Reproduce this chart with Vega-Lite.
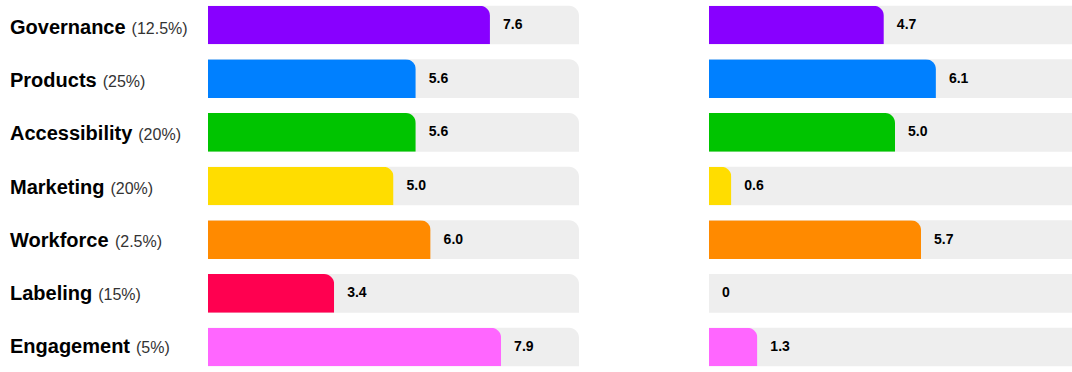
{
  "$schema": "https://vega.github.io/schema/vega-lite/v6.json",
  "padding": {"left": 10, "right": 0, "top": 0, "bottom": 0},
  "autosize": {"type": "pad"},
  "bounds": "flush",
  "config": {"view": {"stroke": null}, "font": "Liberation Sans"},
  "data": {"values": [
    {"name": "Governance", "weight": "(12.5%)", "left": 7.6, "right": 4.7},
    {"name": "Products", "weight": "(25%)", "left": 5.6, "right": 6.1},
    {"name": "Accessibility", "weight": "(20%)", "left": 5.6, "right": 5.0},
    {"name": "Marketing", "weight": "(20%)", "left": 5.0, "right": 0.6},
    {"name": "Workforce", "weight": "(2.5%)", "left": 6.0, "right": 5.7},
    {"name": "Labeling", "weight": "(15%)", "left": 3.4, "right": 0},
    {"name": "Engagement", "weight": "(5%)", "left": 7.9, "right": 1.3}
  ]},
  "spacing": 130,
  "hconcat": [
    {
      "width": 68,
      "height": 372,
      "encoding": {
        "y": {"field": "name", "type": "nominal", "sort": null, "axis": null,
              "scale": {"paddingInner": 0.28, "paddingOuter": 0.105}},
        "x": {"datum": 0, "type": "quantitative", "axis": null, "scale": {"domain": [0, 1]}}
      },
      "layer": [
        {"mark": {"type": "text", "align": "left", "baseline": "alphabetic", "dy": 7.5,
                  "font": "Liberation Sans", "fontWeight": "bold", "fontSize": 20, "color": "#000000"},
         "encoding": {"text": {"field": "name"}}},
        {"mark": {"type": "text", "align": "left", "baseline": "alphabetic", "dy": 7.5,
                  "font": "Liberation Sans", "fontSize": 16, "color": "#333333",
                  "dx": {"expr": "6 + 0.02 * (556 * length(datum.name) + 55 * length(replace(datum.name, regexp('[^bdgnopu]', 'g'), '')) - 278 * length(replace(datum.name, regexp('[^il]', 'g'), '')) - 223 * length(replace(datum.name, regexp('[^tf]', 'g'), '')) - 167 * length(replace(datum.name, regexp('[^r]', 'g'), '')) + 333 * length(replace(datum.name, regexp('[^m]', 'g'), '')) + 166 * length(replace(datum.name, regexp('[^A]', 'g'), '')) + 111 * length(replace(datum.name, regexp('[^EP]', 'g'), '')) + 222 * length(replace(datum.name, regexp('[^G]', 'g'), '')) + 55 * length(replace(datum.name, regexp('[^L]', 'g'), '')) + 277 * length(replace(datum.name, regexp('[^M]', 'g'), '')) + 388 * length(replace(datum.name, regexp('[^W]', 'g'), '')))"}},
         "encoding": {"text": {"field": "weight"}}}
      ]
    },
    {
      "width": 371,
      "height": 372,
      "encoding": {
        "y": {"field": "name", "type": "nominal", "sort": null, "axis": null,
              "scale": {"paddingInner": 0.28, "paddingOuter": 0.105}}
      },
      "layer": [
        {"mark": {"type": "bar", "color": "#eeeeee", "cornerRadiusTopRight": 10},
         "encoding": {"x": {"datum": 10, "type": "quantitative", "axis": null, "scale": {"domain": [0, 10], "nice": false}}}},
        {"mark": {"type": "bar", "cornerRadiusTopRight": 10},
         "encoding": {
           "x": {"field": "left", "type": "quantitative"},
           "color": {"field": "name", "type": "nominal", "legend": null, "sort": null,
                     "scale": {"domain": ["Governance", "Products", "Accessibility", "Marketing", "Workforce", "Labeling", "Engagement"],
                               "range": ["#8800ff", "#0080ff", "#00c400", "#ffdd00", "#ff8a00", "#ff0050", "#ff66ff"]}}
         }},
        {"mark": {"type": "text", "align": "left", "baseline": "middle", "dx": 13, "fontWeight": "bold", "fontSize": 14, "color": "#000000"},
         "encoding": {
           "x": {"field": "left", "type": "quantitative"},
           "text": {"condition": {"test": "datum.left == 0", "value": "0"}, "field": "left", "type": "quantitative", "format": ".1f"}
         }}
      ]
    },
    {
      "width": 363,
      "height": 372,
      "encoding": {
        "y": {"field": "name", "type": "nominal", "sort": null, "axis": null,
              "scale": {"paddingInner": 0.28, "paddingOuter": 0.105}}
      },
      "layer": [
        {"mark": {"type": "bar", "color": "#eeeeee", "cornerRadiusTopRight": 10, "clip": true},
         "encoding": {"x": {"datum": 10, "type": "quantitative", "axis": null, "scale": {"domain": [0, 10], "nice": false, "range": [0, 372]}}}},
        {"mark": {"type": "bar", "cornerRadiusTopRight": 10},
         "encoding": {
           "x": {"field": "right", "type": "quantitative"},
           "color": {"field": "name", "type": "nominal", "legend": null, "sort": null,
                     "scale": {"domain": ["Governance", "Products", "Accessibility", "Marketing", "Workforce", "Labeling", "Engagement"],
                               "range": ["#8800ff", "#0080ff", "#00c400", "#ffdd00", "#ff8a00", "#ff0050", "#ff66ff"]}}
         }},
        {"mark": {"type": "text", "align": "left", "baseline": "middle", "dx": 13, "fontWeight": "bold", "fontSize": 14, "color": "#000000"},
         "encoding": {
           "x": {"field": "right", "type": "quantitative"},
           "text": {"condition": {"test": "datum.right == 0", "value": "0"}, "field": "right", "type": "quantitative", "format": ".1f"}
         }}
      ]
    }
  ]
}
